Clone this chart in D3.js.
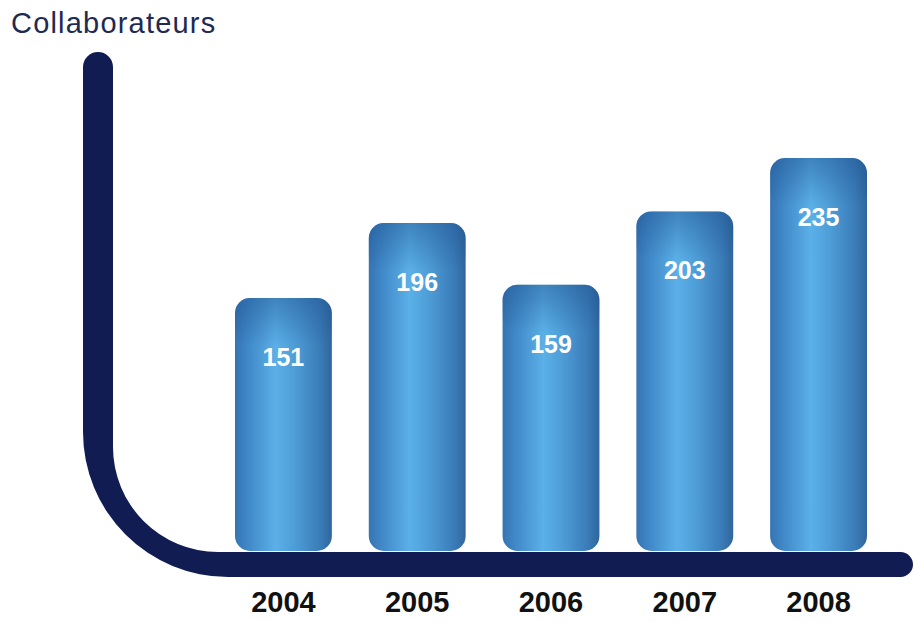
<!DOCTYPE html>
<html>
<head>
<meta charset="utf-8">
<script src="https://cdn.jsdelivr.net/npm/d3@7"></script>
<style>
  body { margin: 0; background: #fff; }
  svg { display: block; }
</style>
</head>
<body>
<div id="chart"></div>
<script>
var years = ["2004", "2005", "2006", "2007", "2008"];
var collaborateurs = [151, 196, 159, 203, 235];
var title = "Collaborateurs";

var width = 914, height = 622;
var baseY = 550;

var svg = d3.select("#chart").append("svg")
	.attr("width", width)
	.attr("height", height);

var defs = svg.append("defs");

// horizontal shading of the bars: dark edges, light centre
var hg = defs.append("linearGradient")
	.attr("id", "barShade")
	.attr("x1", "0").attr("x2", "1").attr("y1", "0").attr("y2", "0");
hg.append("stop").attr("offset", "0%").attr("stop-color", "#3674b2");
hg.append("stop").attr("offset", "12%").attr("stop-color", "#3f86c6");
hg.append("stop").attr("offset", "42%").attr("stop-color", "#5bb0e8");
hg.append("stop").attr("offset", "60%").attr("stop-color", "#4f9fd9");
hg.append("stop").attr("offset", "88%").attr("stop-color", "#3a7cb8");
hg.append("stop").attr("offset", "100%").attr("stop-color", "#2f669c");

// darker cap at the top of each bar
var vg = defs.append("linearGradient")
	.attr("id", "topShade")
	.attr("x1", "0").attr("x2", "0").attr("y1", "0").attr("y2", "1");
vg.append("stop").attr("offset", "0%").attr("stop-color", "#1d4f8c").attr("stop-opacity", 0.45);
vg.append("stop").attr("offset", "100%").attr("stop-color", "#1d4f8c").attr("stop-opacity", 0);

var x = d3.scaleBand()
	.domain(years)
	.range([235, 867])
	.paddingInner(0.276)
	.paddingOuter(0);

var y = d3.scaleLinear()
	.domain([0, d3.max(collaborateurs)])
	.range([baseY, 158]);

var data = years.map(function(d, i) { return {year: d, value: collaborateurs[i]}; });

// title
svg.append("text")
	.attr("x", 11)
	.attr("y", 33)
	.attr("font-family", "Liberation Sans, Arial, sans-serif")
	.attr("font-size", 29)
	.attr("letter-spacing", 1.2)
	.attr("fill", "#1e2a52")
	.text(title);

// the curved L-shaped axis
var ax = 83, ay = 577;          // outer left edge / outer bottom edge
var vw = 30, hw = 25;           // thickness of vertical / horizontal parts
var rOut = 145, rIn = 105;
var topY = y.range()[1] - 106;  // top of vertical bar
var endX = width - 1;
var axisPath = [
	"M", ax, topY + vw / 2,
	"A", vw / 2, vw / 2, 0, 0, 1, ax + vw, topY + vw / 2,
	"L", ax + vw, ay - hw - rIn,
	"A", rIn, rIn, 0, 0, 0, ax + vw + rIn, ay - hw,
	"L", endX - hw / 2, ay - hw,
	"A", hw / 2, hw / 2, 0, 0, 1, endX - hw / 2, ay,
	"L", ax + rOut, ay,
	"A", rOut, rOut, 0, 0, 1, ax, ay - rOut,
	"Z"
].join(" ");

svg.append("path")
	.attr("d", axisPath)
	.attr("fill", "#101c52");

// bars
var bars = svg.selectAll(".bar")
	.data(data)
	.enter()
	.append("g")
	.attr("class", "bar");

bars.append("rect")
	.attr("x", function(d) { return x(d.year); })
	.attr("y", function(d) { return y(d.value); })
	.attr("width", x.bandwidth())
	.attr("height", function(d) { return baseY - y(d.value) + 1; })
	.attr("rx", 15)
	.attr("fill", "url(#barShade)");

bars.append("rect")
	.attr("x", function(d) { return x(d.year); })
	.attr("y", function(d) { return y(d.value); })
	.attr("width", x.bandwidth())
	.attr("height", 48)
	.attr("rx", 15)
	.attr("fill", "url(#topShade)");

// value labels
bars.append("text")
	.attr("x", function(d) { return x(d.year) + x.bandwidth() / 2; })
	.attr("y", function(d) { return y(d.value) + 68; })
	.attr("text-anchor", "middle")
	.attr("font-family", "Liberation Sans, Arial, sans-serif")
	.attr("font-weight", "bold")
	.attr("font-size", 25)
	.attr("fill", "#ffffff")
	.text(function(d) { return d.value; });

// year labels
svg.selectAll(".year")
	.data(years)
	.enter()
	.append("text")
	.attr("class", "year")
	.attr("x", function(d) { return x(d) + x.bandwidth() / 2; })
	.attr("y", 612)
	.attr("text-anchor", "middle")
	.attr("font-family", "Liberation Sans, Arial, sans-serif")
	.attr("font-weight", "bold")
	.attr("font-size", 29)
	.attr("fill", "#111111")
	.text(function(d) { return d; });
</script>
</body>
</html>
